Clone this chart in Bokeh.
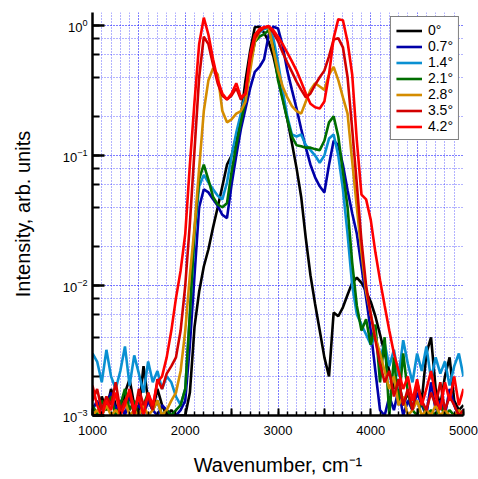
from bokeh.plotting import figure
from bokeh.models import FixedTicker, LogTicker
from bokeh.embed import file_html
from bokeh.resources import INLINE

# Wavenumber grid (cm^-1)
wavenumber = list(range(1000, 5001, 50))

labels = ["0°", "0.7°", "1.4°", "2.1°", "2.8°", "3.5°", "4.2°"]
colors = ["#000000", "#0000a8", "#0a90d2", "#006e00", "#d48c00", "#d20000", "#ff0000"]

ang_0_0 = [
    0.0012, 0.0010, 0.0014, 0.0011, 0.0016, 0.0012, 0.0010, 0.0015, 0.0019, 0.0012,
    0.0011, 0.0024, 0.0013, 0.0011, 0.0016, 0.0012, 0.0010, 0.0011, 0.0010, 0.0010,
    0.0010, 0.0015, 0.0048, 0.0090, 0.014, 0.019, 0.028, 0.040, 0.058, 0.085,
    0.10, 0.14, 0.20, 0.38, 0.64, 0.97, 0.98, 0.88, 0.75, 0.58,
    0.40, 0.28, 0.19, 0.125, 0.080, 0.048, 0.023, 0.012, 0.0072, 0.0045,
    0.0028, 0.0020, 0.0062, 0.0058, 0.0068, 0.0085, 0.0105, 0.0115, 0.0105, 0.0090,
    0.0075, 0.0058, 0.0042, 0.0030, 0.0022, 0.0016, 0.0019, 0.0012, 0.0015, 0.0011,
    0.0018, 0.0013, 0.0030, 0.0040, 0.0016, 0.0012, 0.0020, 0.0028, 0.0013, 0.0011,
    0.0012]

ang_0_7 = [
    0.0011, 0.0013, 0.0010, 0.0012, 0.0015, 0.0011, 0.0013, 0.0010, 0.0014, 0.0011,
    0.0012, 0.0010, 0.0013, 0.0011, 0.0010, 0.0012, 0.0011, 0.0010, 0.0010, 0.0011,
    0.0013, 0.0035, 0.012, 0.040, 0.055, 0.052, 0.046, 0.041, 0.035, 0.033,
    0.060, 0.10, 0.16, 0.23, 0.33, 0.44, 0.48, 0.55, 0.85, 0.98,
    0.95, 0.70, 0.45, 0.32, 0.23, 0.16, 0.115, 0.085, 0.068, 0.058,
    0.052, 0.085, 0.13, 0.12, 0.085, 0.054, 0.036, 0.025, 0.014, 0.0080,
    0.0045, 0.0022, 0.0011, 0.0010, 0.0014, 0.0011, 0.0016, 0.0010, 0.0013, 0.0011,
    0.0015, 0.0012, 0.0010, 0.0018, 0.0011, 0.0013, 0.0010, 0.0016, 0.0012, 0.0010,
    0.0011]

ang_1_4 = [
    0.0030, 0.0026, 0.0018, 0.0032, 0.0020, 0.0016, 0.0022, 0.0034, 0.0017, 0.0029,
    0.0021, 0.0015, 0.0026, 0.0018, 0.0022, 0.0016, 0.0020, 0.0018, 0.0014, 0.0012,
    0.0016, 0.0060, 0.025, 0.058, 0.071, 0.062, 0.055, 0.049, 0.046, 0.062,
    0.10, 0.15, 0.21, 0.30, 0.50, 0.75, 0.88, 0.94, 0.96, 0.80,
    0.52, 0.32, 0.20, 0.145, 0.14, 0.145, 0.12, 0.11, 0.10, 0.088,
    0.10, 0.135, 0.145, 0.10, 0.055, 0.025, 0.010, 0.0060, 0.0050, 0.0042,
    0.0035, 0.0040, 0.0028, 0.0036, 0.0024, 0.0032, 0.0020, 0.0038, 0.0025, 0.0018,
    0.0030, 0.0022, 0.0034, 0.0019, 0.0028, 0.0021, 0.0026, 0.0017, 0.0024, 0.0030,
    0.0020]

ang_2_1 = [
    0.0012, 0.0010, 0.0013, 0.0011, 0.0014, 0.0010, 0.0012, 0.0016, 0.0011, 0.0013,
    0.0010, 0.0012, 0.0015, 0.0011, 0.0013, 0.0010, 0.0011, 0.0010, 0.0011, 0.0012,
    0.0016, 0.0060, 0.027, 0.066, 0.085, 0.065, 0.048, 0.042, 0.040, 0.043,
    0.075, 0.12, 0.18, 0.27, 0.50, 0.75, 0.82, 0.86, 0.92, 0.68,
    0.38, 0.27, 0.19, 0.14, 0.12, 0.118, 0.115, 0.115, 0.112, 0.110,
    0.13, 0.18, 0.20, 0.14, 0.075, 0.040, 0.015, 0.0070, 0.0045, 0.0055,
    0.0035, 0.0050, 0.0018, 0.0040, 0.0010, 0.0028, 0.0012, 0.0030, 0.0015, 0.0011,
    0.0010, 0.0013, 0.0010, 0.0011, 0.0010, 0.0012, 0.0010, 0.0011, 0.0010, 0.0010,
    0.0010]

ang_2_8 = [
    0.0010, 0.0011, 0.0010, 0.0012, 0.0010, 0.0011, 0.0010, 0.0013, 0.0010, 0.0011,
    0.0010, 0.0012, 0.0010, 0.0011, 0.0013, 0.0010, 0.0011, 0.0013, 0.0015, 0.0022,
    0.0045, 0.012, 0.028, 0.080, 0.22, 0.38, 0.47, 0.42, 0.22, 0.18,
    0.19, 0.21, 0.22, 0.26, 0.45, 0.75, 0.90, 0.97, 0.97, 0.65,
    0.45, 0.34, 0.28, 0.24, 0.22, 0.21, 0.26, 0.32, 0.36, 0.34,
    0.32, 0.42, 0.48, 0.38, 0.28, 0.21, 0.09, 0.040, 0.018, 0.009,
    0.0060, 0.0040, 0.0030, 0.0022, 0.0016, 0.0020, 0.0012, 0.0014, 0.0010, 0.0011,
    0.0013, 0.0010, 0.0011, 0.0010, 0.0012, 0.0010, 0.0011, 0.0010, 0.0010, 0.0011,
    0.0010]

ang_3_5 = [
    0.0013, 0.0016, 0.0011, 0.0014, 0.0012, 0.0018, 0.0011, 0.0013, 0.0015, 0.0010,
    0.0016, 0.0012, 0.0014, 0.0011, 0.0019, 0.0016, 0.0021, 0.0024, 0.0028, 0.0045,
    0.010, 0.030, 0.11, 0.40, 0.82, 0.72, 0.50, 0.36, 0.29, 0.27,
    0.29, 0.33, 0.27, 0.30, 0.55, 0.80, 0.90, 0.96, 0.98, 0.88,
    0.76, 0.62, 0.52, 0.44, 0.37, 0.32, 0.28, 0.30, 0.35, 0.40,
    0.45, 0.58, 0.78, 0.80, 0.68, 0.40, 0.16, 0.060, 0.022, 0.010,
    0.0060, 0.0038, 0.0025, 0.0018, 0.0022, 0.0014, 0.0019, 0.0012, 0.0016, 0.0011,
    0.0017, 0.0013, 0.0011, 0.0015, 0.0012, 0.0018, 0.0011, 0.0014, 0.0012, 0.0010,
    0.0011]

ang_4_2 = [
    0.0017, 0.0012, 0.0010, 0.0013, 0.0011, 0.0015, 0.0010, 0.0012, 0.0016, 0.0011,
    0.0014, 0.0010, 0.0015, 0.0012, 0.0018, 0.0020, 0.0028, 0.0045, 0.0080, 0.013,
    0.025, 0.085, 0.26, 0.72, 1.15, 0.85, 0.55, 0.38, 0.30, 0.27,
    0.30, 0.36, 0.28, 0.30, 0.60, 0.85, 0.94, 0.97, 0.99, 0.92,
    0.82, 0.72, 0.62, 0.53, 0.45, 0.37, 0.30, 0.25, 0.235, 0.23,
    0.26, 0.42, 0.80, 1.12, 1.10, 0.75, 0.42, 0.13, 0.050, 0.046,
    0.032, 0.018, 0.011, 0.0070, 0.0045, 0.0030, 0.0022, 0.0016, 0.0020, 0.0013,
    0.0019, 0.0012, 0.0016, 0.0022, 0.0014, 0.0011, 0.0018, 0.0013, 0.0020, 0.0012,
    0.0016]

series = [ang_0_0, ang_0_7, ang_1_4, ang_2_1, ang_2_8, ang_3_5, ang_4_2]

x_ticks = [1000, 1500, 2000, 2500, 3000, 3500, 4000, 4500, 5000]
x_tick_labels = {1000: "1000", 2000: "2000", 3000: "3000", 4000: "4000", 5000: "5000",
                 1500: "", 2500: "", 3500: "", 4500: ""}

FONT = "Liberation Sans"

p = figure(width=478, height=479, x_range=(1000, 5000), y_range=(0.001, 1.26),
           y_axis_type="log", output_backend="svg", toolbar_location=None,
           min_border_left=92, min_border_right=15, min_border_top=12, min_border_bottom=64)
p.outline_line_color = None
p.background_fill_color = "white"

for vals, lab, col in zip(series, labels, colors):
    p.line(wavenumber, vals, line_color=col, line_width=2.6, legend_label=lab)

# X axis
p.xaxis.ticker = FixedTicker(ticks=x_ticks, minor_ticks=list(range(1000, 5001, 100)))
p.xaxis.major_label_overrides = x_tick_labels
p.xaxis.axis_line_width = 2.5
p.xaxis.major_tick_in = 7
p.xaxis.major_tick_out = 0
p.xaxis.minor_tick_in = 4
p.xaxis.minor_tick_out = 0
p.xaxis.major_tick_line_width = 2
p.xaxis.minor_tick_line_width = 1.5
p.xaxis.major_label_standoff = 10
p.xaxis.major_label_text_font = FONT
p.xaxis.major_label_text_font_size = "13px"
p.xaxis.major_label_text_color = "black"
p.xaxis.axis_label = "Wavenumber, cm\u207b\u00b9"
p.xaxis.axis_label_text_font = FONT
p.xaxis.axis_label_text_font_size = "20px"
p.xaxis.axis_label_text_font_style = "normal"
p.xaxis.axis_label_text_color = "black"
p.xaxis.axis_label_standoff = 16

# Y axis
p.yaxis.ticker = LogTicker()
p.yaxis.axis_line_width = 2.5
p.yaxis.major_tick_in = 12
p.yaxis.major_tick_out = 0
p.yaxis.minor_tick_in = 7
p.yaxis.minor_tick_out = 0
p.yaxis.major_tick_line_width = 2.5
p.yaxis.minor_tick_line_width = 2
p.yaxis.major_label_standoff = 5
p.yaxis.major_label_text_font = FONT
p.yaxis.major_label_text_font_size = "13px"
p.yaxis.major_label_text_color = "black"
p.yaxis.axis_label = "Intensity, arb. units"
p.yaxis.axis_label_text_font = FONT
p.yaxis.axis_label_text_font_size = "20px"
p.yaxis.axis_label_text_font_style = "normal"
p.yaxis.axis_label_text_color = "black"
p.yaxis.axis_label_standoff = 26

# Grid
for g in (p.xgrid, p.ygrid):
    g.grid_line_color = "#0000ff"
    g.grid_line_alpha = 0.6
    g.grid_line_dash = "1 2"
    g.grid_line_width = 1
    g.minor_grid_line_color = "#0000ff"
    g.minor_grid_line_alpha = 0.6
    g.minor_grid_line_dash = "1 2"
    g.minor_grid_line_width = 1

# Legend
lg = p.legend[0]
lg.location = "top_right"
lg.margin = 4
lg.padding = 5
lg.spacing = 0
lg.glyph_width = 26
lg.glyph_height = 15
lg.label_height = 15
lg.label_standoff = 6
lg.label_text_font = FONT
lg.label_text_font_size = "14px"
lg.label_text_color = "black"
lg.border_line_color = "black"
lg.border_line_width = 1.5
lg.background_fill_alpha = 1.0

open("out.html", "w").write(file_html(p, INLINE))
